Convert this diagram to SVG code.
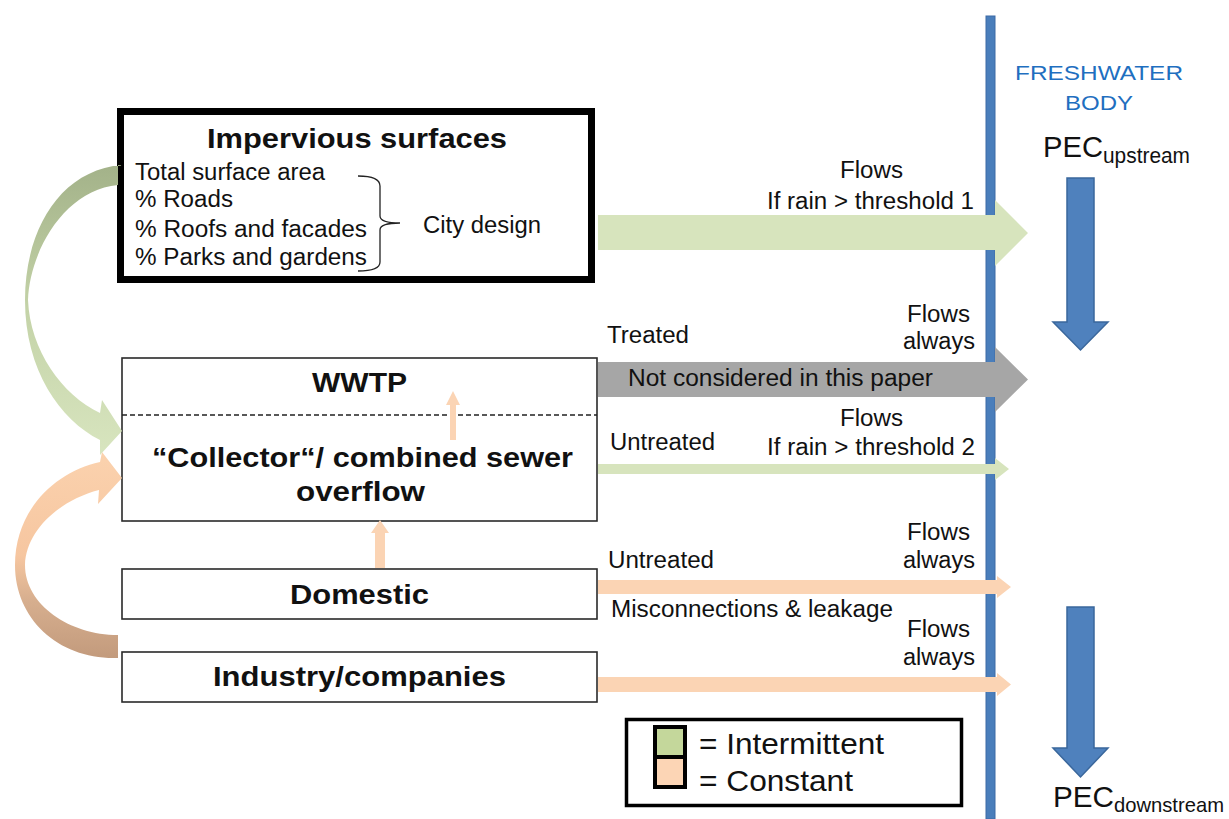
<svg xmlns="http://www.w3.org/2000/svg" width="1229" height="819" viewBox="0 0 1229 819">
<style>
text{font-family:"Liberation Sans",Arial,sans-serif;fill:#111}
.b{font-weight:bold;font-size:27px}
.r{font-size:23.5px}
.box{fill:#fff;stroke:#2a2a2a;stroke-width:1.6}
.gr{fill:#d7e4bd}
.or{fill:#fbd4b4}
.gy{fill:#a6a6a6}
.bl{fill:#4f81bd;stroke:#3a679c;stroke-width:1.5}
</style>
<defs>
<linearGradient id="gg" gradientUnits="userSpaceOnUse" x1="0" y1="165" x2="0" y2="455">
<stop offset="0" stop-color="#a3b289"/><stop offset="0.5" stop-color="#c4d3a8"/><stop offset="1" stop-color="#d8e5bf"/>
</linearGradient>
<linearGradient id="og" gradientUnits="userSpaceOnUse" x1="0" y1="452" x2="0" y2="660">
<stop offset="0" stop-color="#fbd2ae"/><stop offset="0.5" stop-color="#f6c6a0"/><stop offset="0.72" stop-color="#d6ae8e"/><stop offset="1" stop-color="#c29a7c"/>
</linearGradient>
</defs>
<rect width="1229" height="819" fill="#fff"/>

<g id="river">
<rect x="986" y="16" width="9" height="803" fill="#4a7ebb" stroke="#3c6aa5" stroke-width="1"/>
<text x="1015" y="80" style="font-size:21px;fill:#1f6fc0" textLength="168" lengthAdjust="spacingAndGlyphs">FRESHWATER</text>
<text x="1065" y="110" style="font-size:21px;fill:#1f6fc0" textLength="68" lengthAdjust="spacingAndGlyphs">BODY</text>
<text x="1043" y="157" style="font-size:30px" textLength="60" lengthAdjust="spacingAndGlyphs">PEC</text>
<text x="1103" y="163" style="font-size:22px" textLength="87" lengthAdjust="spacingAndGlyphs">upstream</text>
<text x="1053" y="807" style="font-size:30px" textLength="61" lengthAdjust="spacingAndGlyphs">PEC</text>
<text x="1114" y="812" style="font-size:21px" textLength="110" lengthAdjust="spacingAndGlyphs">downstream</text>
</g>

<g id="impervious">
<rect x="120.5" y="111.5" width="471" height="168" fill="none" stroke="#000" stroke-width="7"/>
<text class="b" x="207" y="148" textLength="300" lengthAdjust="spacingAndGlyphs">Impervious surfaces</text>
<text class="r" x="135" y="180" textLength="190" lengthAdjust="spacingAndGlyphs">Total surface area</text>
<text class="r" x="135" y="207" textLength="98" lengthAdjust="spacingAndGlyphs">% Roads</text>
<text class="r" x="135" y="237" textLength="232" lengthAdjust="spacingAndGlyphs">% Roofs and facades</text>
<text class="r" x="135" y="265" textLength="232" lengthAdjust="spacingAndGlyphs">% Parks and gardens</text>
<path d="M358,176 Q380,176 380,186 L380,216 Q380,223 400,223 Q380,223 380,230 L380,262 Q380,271 358,271" fill="none" stroke="#222" stroke-width="1.3"/>
<text class="r" x="423" y="233" textLength="118" lengthAdjust="spacingAndGlyphs">City design</text>
</g>

<g id="wwtp-collector">
<rect x="122" y="358" width="475" height="163" style="fill:#fff;stroke:#2a2a2a;stroke-width:1.6"/>
<line x1="122" y1="415" x2="597" y2="415" stroke="#222" stroke-width="1.3" stroke-dasharray="5,3"/>
<text class="b" x="312" y="392" textLength="95" lengthAdjust="spacingAndGlyphs">WWTP</text>
<text class="b" x="152" y="467" textLength="421" lengthAdjust="spacingAndGlyphs">“Collector“/ combined sewer</text>
<text class="b" x="296" y="501" textLength="129" lengthAdjust="spacingAndGlyphs">overflow</text>
</g>

<g id="domestic">
<rect class="box" x="122" y="569" width="475" height="50"/>
<text class="b" x="290" y="604" textLength="139" lengthAdjust="spacingAndGlyphs">Domestic</text>
</g>

<g id="industry">
<rect class="box" x="122" y="652" width="475" height="50"/>
<text class="b" x="213" y="686" textLength="293" lengthAdjust="spacingAndGlyphs">Industry/companies</text>
</g>

<g id="connectors">
<path d="M122,165 C60,170 25,230 25,300 C25,370 60,420 100,440 L100,455 L122,431 L102,400 L100,413 C62,395 30,350 28,300 C30,250 65,190 118,185 L118,165 Z" fill="url(#gg)"/>
<path d="M118,658 C60,660 15,620 15,565 C15,510 55,472 100,462 L102,452 L122,478 L98,504 L99,490 C60,500 26,530 25,565 C25,605 70,635 118,635 Z" fill="url(#og)"/>
<path class="gr" d="M598,215 L995,215 L995,200 L1028,233 L995,266 L995,250 L598,250 Z"/>
<path class="gy" d="M598,362 L995,362 L995,347 L1028,379.5 L995,412 L995,397 L598,397 Z"/>
<path class="gr" d="M598,464 L995,464 L995,458 L1009,469 L995,480 L995,474 L598,474 Z"/>
<path class="or" d="M598,580 L997,580 L997,576 L1011,587 L997,598 L997,594 L598,594 Z"/>
<path class="or" d="M598,677 L997,677 L997,673 L1011,684.5 L997,696 L997,692 L598,692 Z"/>
<path class="or" d="M450,440 L456,440 L456,405 L460,405 L453,391 L446,405 L450,405 Z"/>
<path class="or" d="M375,568 L385,568 L385,533 L389,533 L380,520 L371,533 L375,533 Z"/>
<path class="bl" d="M1067,178 L1094,178 L1094,322 L1108,322 L1080.5,350 L1053,322 L1067,322 Z"/>
<path class="bl" d="M1067,607 L1094,607 L1094,748 L1108,748 L1080.5,777 L1053,748 L1067,748 Z"/>
<text class="r" x="840" y="178" textLength="63" lengthAdjust="spacingAndGlyphs">Flows</text>
<text class="r" x="767" y="209" textLength="207" lengthAdjust="spacingAndGlyphs">If rain &gt; threshold 1</text>
<text class="r" x="607" y="343" textLength="82" lengthAdjust="spacingAndGlyphs">Treated</text>
<text class="r" x="907" y="322" textLength="63" lengthAdjust="spacingAndGlyphs">Flows</text>
<text class="r" x="903" y="349" textLength="72" lengthAdjust="spacingAndGlyphs">always</text>
<text class="r" x="628" y="386" textLength="305" lengthAdjust="spacingAndGlyphs">Not considered in this paper</text>
<text class="r" x="840" y="426" textLength="63" lengthAdjust="spacingAndGlyphs">Flows</text>
<text class="r" x="610" y="450" textLength="105" lengthAdjust="spacingAndGlyphs">Untreated</text>
<text class="r" x="767" y="455" textLength="208" lengthAdjust="spacingAndGlyphs">If rain &gt; threshold 2</text>
<text class="r" x="907" y="540" textLength="63" lengthAdjust="spacingAndGlyphs">Flows</text>
<text class="r" x="903" y="568" textLength="72" lengthAdjust="spacingAndGlyphs">always</text>
<text class="r" x="608" y="568" textLength="106" lengthAdjust="spacingAndGlyphs">Untreated</text>
<text class="r" x="611" y="617" textLength="282" lengthAdjust="spacingAndGlyphs">Misconnections &amp; leakage</text>
<text class="r" x="907" y="637" textLength="63" lengthAdjust="spacingAndGlyphs">Flows</text>
<text class="r" x="903" y="665" textLength="72" lengthAdjust="spacingAndGlyphs">always</text>
</g>

<g id="legend">
<rect x="626.5" y="719.5" width="335" height="86" fill="#fff" stroke="#000" stroke-width="3.5"/>
<rect x="655" y="727" width="30" height="30" fill="#c4d79b" stroke="#000" stroke-width="4"/>
<rect x="655" y="757" width="30" height="30" fill="#fcd5b5" stroke="#000" stroke-width="4"/>
<text x="699" y="754" style="font-size:30px" textLength="185" lengthAdjust="spacingAndGlyphs">= Intermittent</text>
<text x="699" y="791" style="font-size:30px" textLength="154" lengthAdjust="spacingAndGlyphs">= Constant</text>
</g>
</svg>
